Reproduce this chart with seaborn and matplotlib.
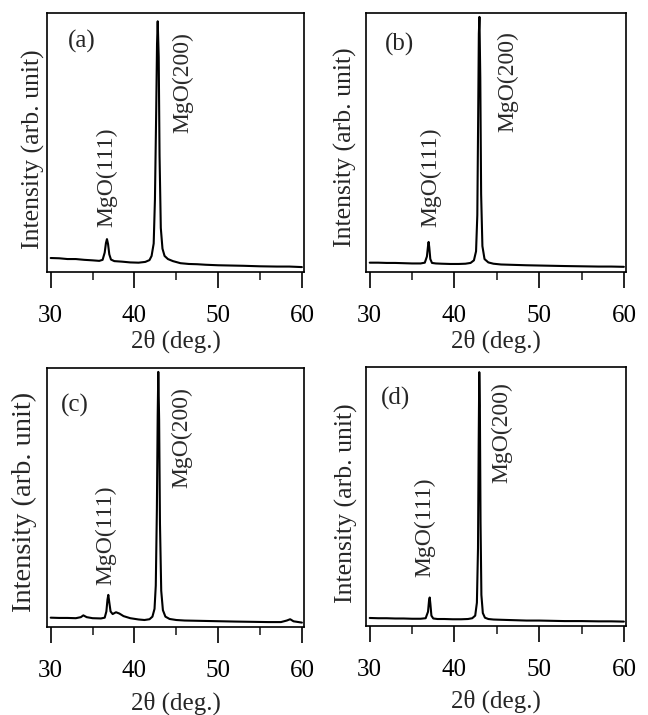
import matplotlib
matplotlib.use("Agg")
import matplotlib.pyplot as plt
import seaborn as sns
import pandas as pd

# ---------------- data (y in arbitrary units 0..1) -------------
x_a = [30, 31, 32, 33, 34, 35, 35.8, 36.2, 36.45, 36.6, 36.72, 36.85, 37.0, 37.2, 37.6,
       38.5, 39.5, 40.5, 41.3, 41.8, 42.05, 42.3, 42.45, 42.6, 42.7, 42.78, 42.9, 43.0,
       43.15, 43.35, 43.6, 44.0, 44.6, 45.5, 46.5, 47.5, 48.5, 50, 51.5, 53, 55, 57, 58.5, 60]
y_a = [0.054, 0.053, 0.050, 0.050, 0.047, 0.045, 0.043, 0.047, 0.075, 0.112, 0.127, 0.108,
       0.068, 0.048, 0.042, 0.040, 0.037, 0.036, 0.039, 0.046, 0.062, 0.11, 0.28, 0.62,
       0.88, 0.968, 0.83, 0.45, 0.17, 0.09, 0.062, 0.050, 0.042, 0.034, 0.031, 0.030,
       0.028, 0.026, 0.025, 0.024, 0.022, 0.021, 0.021, 0.019]

x_b = [30, 31, 32, 33, 34, 35, 36, 36.5, 36.75, 36.88, 36.95, 37.03, 37.15, 37.35, 37.8,
       38.5, 39.5, 40.5, 41.3, 41.9, 42.3, 42.55, 42.7, 42.8, 42.88, 42.95, 43.05, 43.15,
       43.3, 43.55, 44.0, 44.6, 45.5, 46.5, 47.5, 48.5, 50, 51.5, 53, 55, 57, 58.5, 60]
y_b = [0.036, 0.036, 0.035, 0.035, 0.034, 0.033, 0.033, 0.036, 0.06, 0.10, 0.116, 0.095,
       0.05, 0.035, 0.033, 0.032, 0.031, 0.031, 0.032, 0.035, 0.045, 0.08, 0.22, 0.60,
       0.92, 0.985, 0.75, 0.30, 0.10, 0.05, 0.037, 0.032, 0.029, 0.028, 0.027, 0.026,
       0.025, 0.024, 0.023, 0.022, 0.021, 0.021, 0.020]

x_c = [30, 31, 32, 33, 33.6, 33.9, 34.3, 35, 36, 36.45, 36.65, 36.78, 36.88, 37.0, 37.15,
       37.4, 37.8, 38.2, 38.7, 39.5, 40.5, 41.2, 41.8, 42.15, 42.4, 42.55, 42.68, 42.78,
       42.85, 42.95, 43.05, 43.2, 43.4, 43.7, 44.2, 45, 46, 47.5, 49, 50.5, 52, 54, 56,
       57.5, 58.2, 58.6, 59.0, 60]
y_c = [0.036, 0.035, 0.035, 0.034, 0.038, 0.045, 0.038, 0.034, 0.033, 0.036, 0.06, 0.105,
       0.124, 0.095, 0.06, 0.05, 0.057, 0.052, 0.042, 0.034, 0.029, 0.027, 0.030, 0.040,
       0.07, 0.16, 0.45, 0.82, 0.985, 0.80, 0.40, 0.14, 0.065, 0.04, 0.031, 0.027, 0.025,
       0.024, 0.023, 0.022, 0.021, 0.020, 0.019, 0.019, 0.025, 0.030, 0.022, 0.017]

x_d = [30, 31, 32, 33, 34, 35, 36, 36.6, 36.88, 37.0, 37.08, 37.16, 37.28, 37.5, 38,
       38.8, 39.8, 40.8, 41.6, 42.1, 42.45, 42.65, 42.78, 42.86, 42.93, 43.0, 43.08, 43.18,
       43.35, 43.6, 44.0, 44.6, 45.5, 46.5, 47.5, 48.5, 50, 51.5, 53, 55, 57, 58.5, 60]
y_d = [0.031, 0.030, 0.030, 0.029, 0.029, 0.028, 0.028, 0.030, 0.055, 0.098, 0.110, 0.085,
       0.040, 0.029, 0.027, 0.027, 0.026, 0.026, 0.027, 0.030, 0.040, 0.09, 0.30, 0.70,
       0.98, 0.85, 0.40, 0.12, 0.05, 0.032, 0.027, 0.025, 0.024, 0.023, 0.022, 0.021,
       0.021, 0.020, 0.019, 0.019, 0.018, 0.018, 0.017]

panel_labels = ["(a)", "(b)", "(c)", "(d)"]
peak_labels = ["MgO(111)", "MgO(200)"]
x_ticks = [30, 40, 50, 60]
x_minor = [35, 45, 55]
x_label = "2\u03b8 (deg.)"
y_label = "Intensity (arb. unit)"

# ---------------- style -------------
sns.set_style("ticks")
plt.rcParams['font.family'] = ['Liberation Serif', 'DejaVu Serif']

fig = plt.figure(figsize=(6.48, 7.15), dpi=100)
W, H = 648, 715

# axes boxes in pixels: left, top, right, bottom
boxes = [(47, 13, 304, 272), (366, 13, 626, 272), (47, 368, 304, 627), (366, 367, 626, 626)]
series = [(x_a, y_a), (x_b, y_b), (x_c, y_c), (x_d, y_d)]
# annotation positions (data x, axes-y)
ann111 = [(36.7, 0.172), (37.2, 0.172), (36.6, 0.162), (36.5, 0.19)]
ann200 = [(45.8, 0.925), (46.3, 0.93), (45.7, 0.927), (45.6, 0.94)]
plab = [(0.136, 0.89), (0.13, 0.88), (0.11, 0.857), (0.114, 0.88)]
ylab_pos = [(-0.006, 0.475), (-0.034, 0.48), (-0.04, 0.483), (-0.032, 0.473)]
ylab_size = [18.5, 18.5, 20.5, 18.5]
xlab_pos = [-0.222, -0.222, -0.25, -0.246]

for i, ((l, t, r, b), (xs, ys)) in enumerate(zip(boxes, series)):
    ax = fig.add_axes([l / W, 1 - b / H, (r - l) / W, (b - t) / H])
    df = pd.DataFrame({"x": xs, "y": ys})
    sns.lineplot(data=df, x="x", y="y", ax=ax, color="black", linewidth=1.5,
                 estimator=None, sort=False)
    ax.set_xlim(29.56, 60.25)
    ax.set_ylim(0, 1)
    ax.set_xticks(x_ticks)
    ax.set_xticks(x_minor, minor=True)
    ax.set_yticks([])
    ax.tick_params(axis="x", which="major", direction="out", length=11.5, width=1.2,
                   labelsize=18, pad=12, colors="black")
    ax.tick_params(axis="x", which="minor", direction="out", length=6, width=1.2)
    for s in ax.spines.values():
        s.set_linewidth(1.2)
        s.set_color("black")
    ax.set_xlabel(x_label, fontsize=18)
    ax.xaxis.set_label_coords(0.5, xlab_pos[i])
    ax.set_ylabel(y_label, fontsize=ylab_size[i])
    ax.yaxis.set_label_coords(*ylab_pos[i])
    ax.text(plab[i][0], plab[i][1], panel_labels[i], transform=ax.transAxes,
            fontsize=18, ha="center", va="center")
    tr = ax.get_xaxis_transform()
    ax.text(ann111[i][0], ann111[i][1], peak_labels[0], transform=tr, rotation=90,
            ha="center", va="bottom", fontsize=17, color="#2a2a2a")
    ax.text(ann200[i][0], ann200[i][1], peak_labels[1], transform=tr, rotation=90,
            ha="center", va="top", fontsize=17, color="#2a2a2a")

fig.savefig("out.png", dpi=100)
